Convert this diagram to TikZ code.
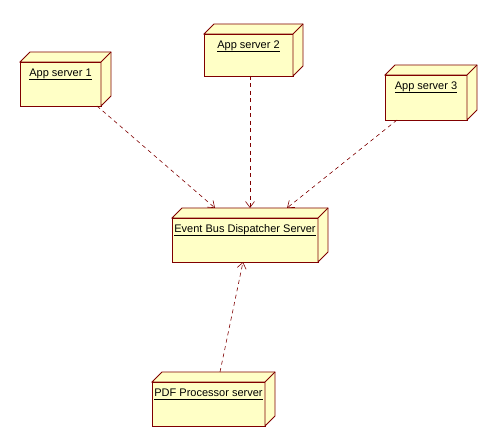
\documentclass[tikz,border=0pt]{standalone}
\usepackage{fontspec}
\setmainfont{Liberation Sans}
\usetikzlibrary{arrows.meta,calc}
\definecolor{edgered}{HTML}{800000}
\definecolor{boxfill}{HTML}{FFFFC6}
\newcommand{\ulbl}[1]{\setbox0\hbox{#1}\rlap{\rule[-2.6pt]{\wd0}{0.75pt}}\box0}
\tikzset{
  devbox/.style={draw=edgered, fill=boxfill, line width=0.8pt, rectangle, inner sep=0pt, outer sep=0pt, anchor=north west},
  devlabel/.style={anchor=base, font=\fontsize{11}{13}\selectfont, text=black, inner sep=0pt},
  dep/.style={draw=edgered, line width=0.6pt, dash pattern=on 4pt off 3.5pt, -{Straight Barb[length=6pt,width=9pt]}},
  cubeside/.style={draw=edgered, fill=boxfill, line width=0.8pt, line join=miter},
}
\newcommand{\cubefaces}[1]{%
  \draw[cubeside] (#1.north west) -- ++(10,-10) -- ($(#1.north east)+(10,-10)$) -- ($(#1.south east)+(10,-10)$) -- (#1.south east) -- (#1.north east) -- cycle;
  \draw[cubeside] (#1.north east) -- ++(10,-10);
}
\begin{document}
\begin{tikzpicture}[x=1pt,y=-1pt]
\fill[white] (0,0) rectangle (496,446);
\useasboundingbox (0,0) rectangle (496,446);

\node[devbox, minimum width=81pt, minimum height=44pt] (a1) at (20,62) {};
\node[devbox, minimum width=89pt, minimum height=42pt] (a2) at (204,34) {};
\node[devbox, minimum width=82pt, minimum height=45pt] (a3) at (385,75) {};
\node[devbox, minimum width=146pt, minimum height=44pt] (eb) at (172,218) {};
\node[devbox, minimum width=113pt, minimum height=44pt] (pdf) at (152,382) {};

\cubefaces{a1}
\cubefaces{a2}
\cubefaces{a3}
\cubefaces{eb}
\cubefaces{pdf}

\node[devlabel] (a1t) at ($(a1.north)+(0,15)$) {\ulbl{App server 1}};
\node[devlabel] (a2t) at ($(a2.north)+(0,15)$) {\ulbl{App server 2}};
\node[devlabel] (a3t) at ($(a3.north)+(0,15)$) {\ulbl{App server 3}};
\node[devlabel] (ebt) at ($(eb.north)+(0,15)$) {\ulbl{Event Bus Dispatcher Server}};
\node[devlabel] (pdft) at ($(pdf.north)+(0,15)$) {\ulbl{PDF Processor server}};

\coordinate (e1) at ($(eb.north west)+(43,-10)$);
\coordinate (e2) at ($(eb.north west)+(78,-10)$);
\coordinate (e3) at ($(eb.north west)+(115,-10)$);
\coordinate (eb0) at ($(eb.south west)+(71,0)$);
\coordinate (s1) at ($(a1.south east)+(-4,0)$);
\coordinate (s2) at ($(a2.south west)+(46,0)$);
\coordinate (s3) at ($(a3.south west)+(12,0)$);
\coordinate (s4) at ($(pdf.north west)+(68,-10)$);

\draw[dep] (s1) -- (e1);
\draw[dep] (s2) -- (e2);
\draw[dep] (s3) -- (e3);
\draw[dep] (s4) -- (eb0);
\end{tikzpicture}
\end{document}
